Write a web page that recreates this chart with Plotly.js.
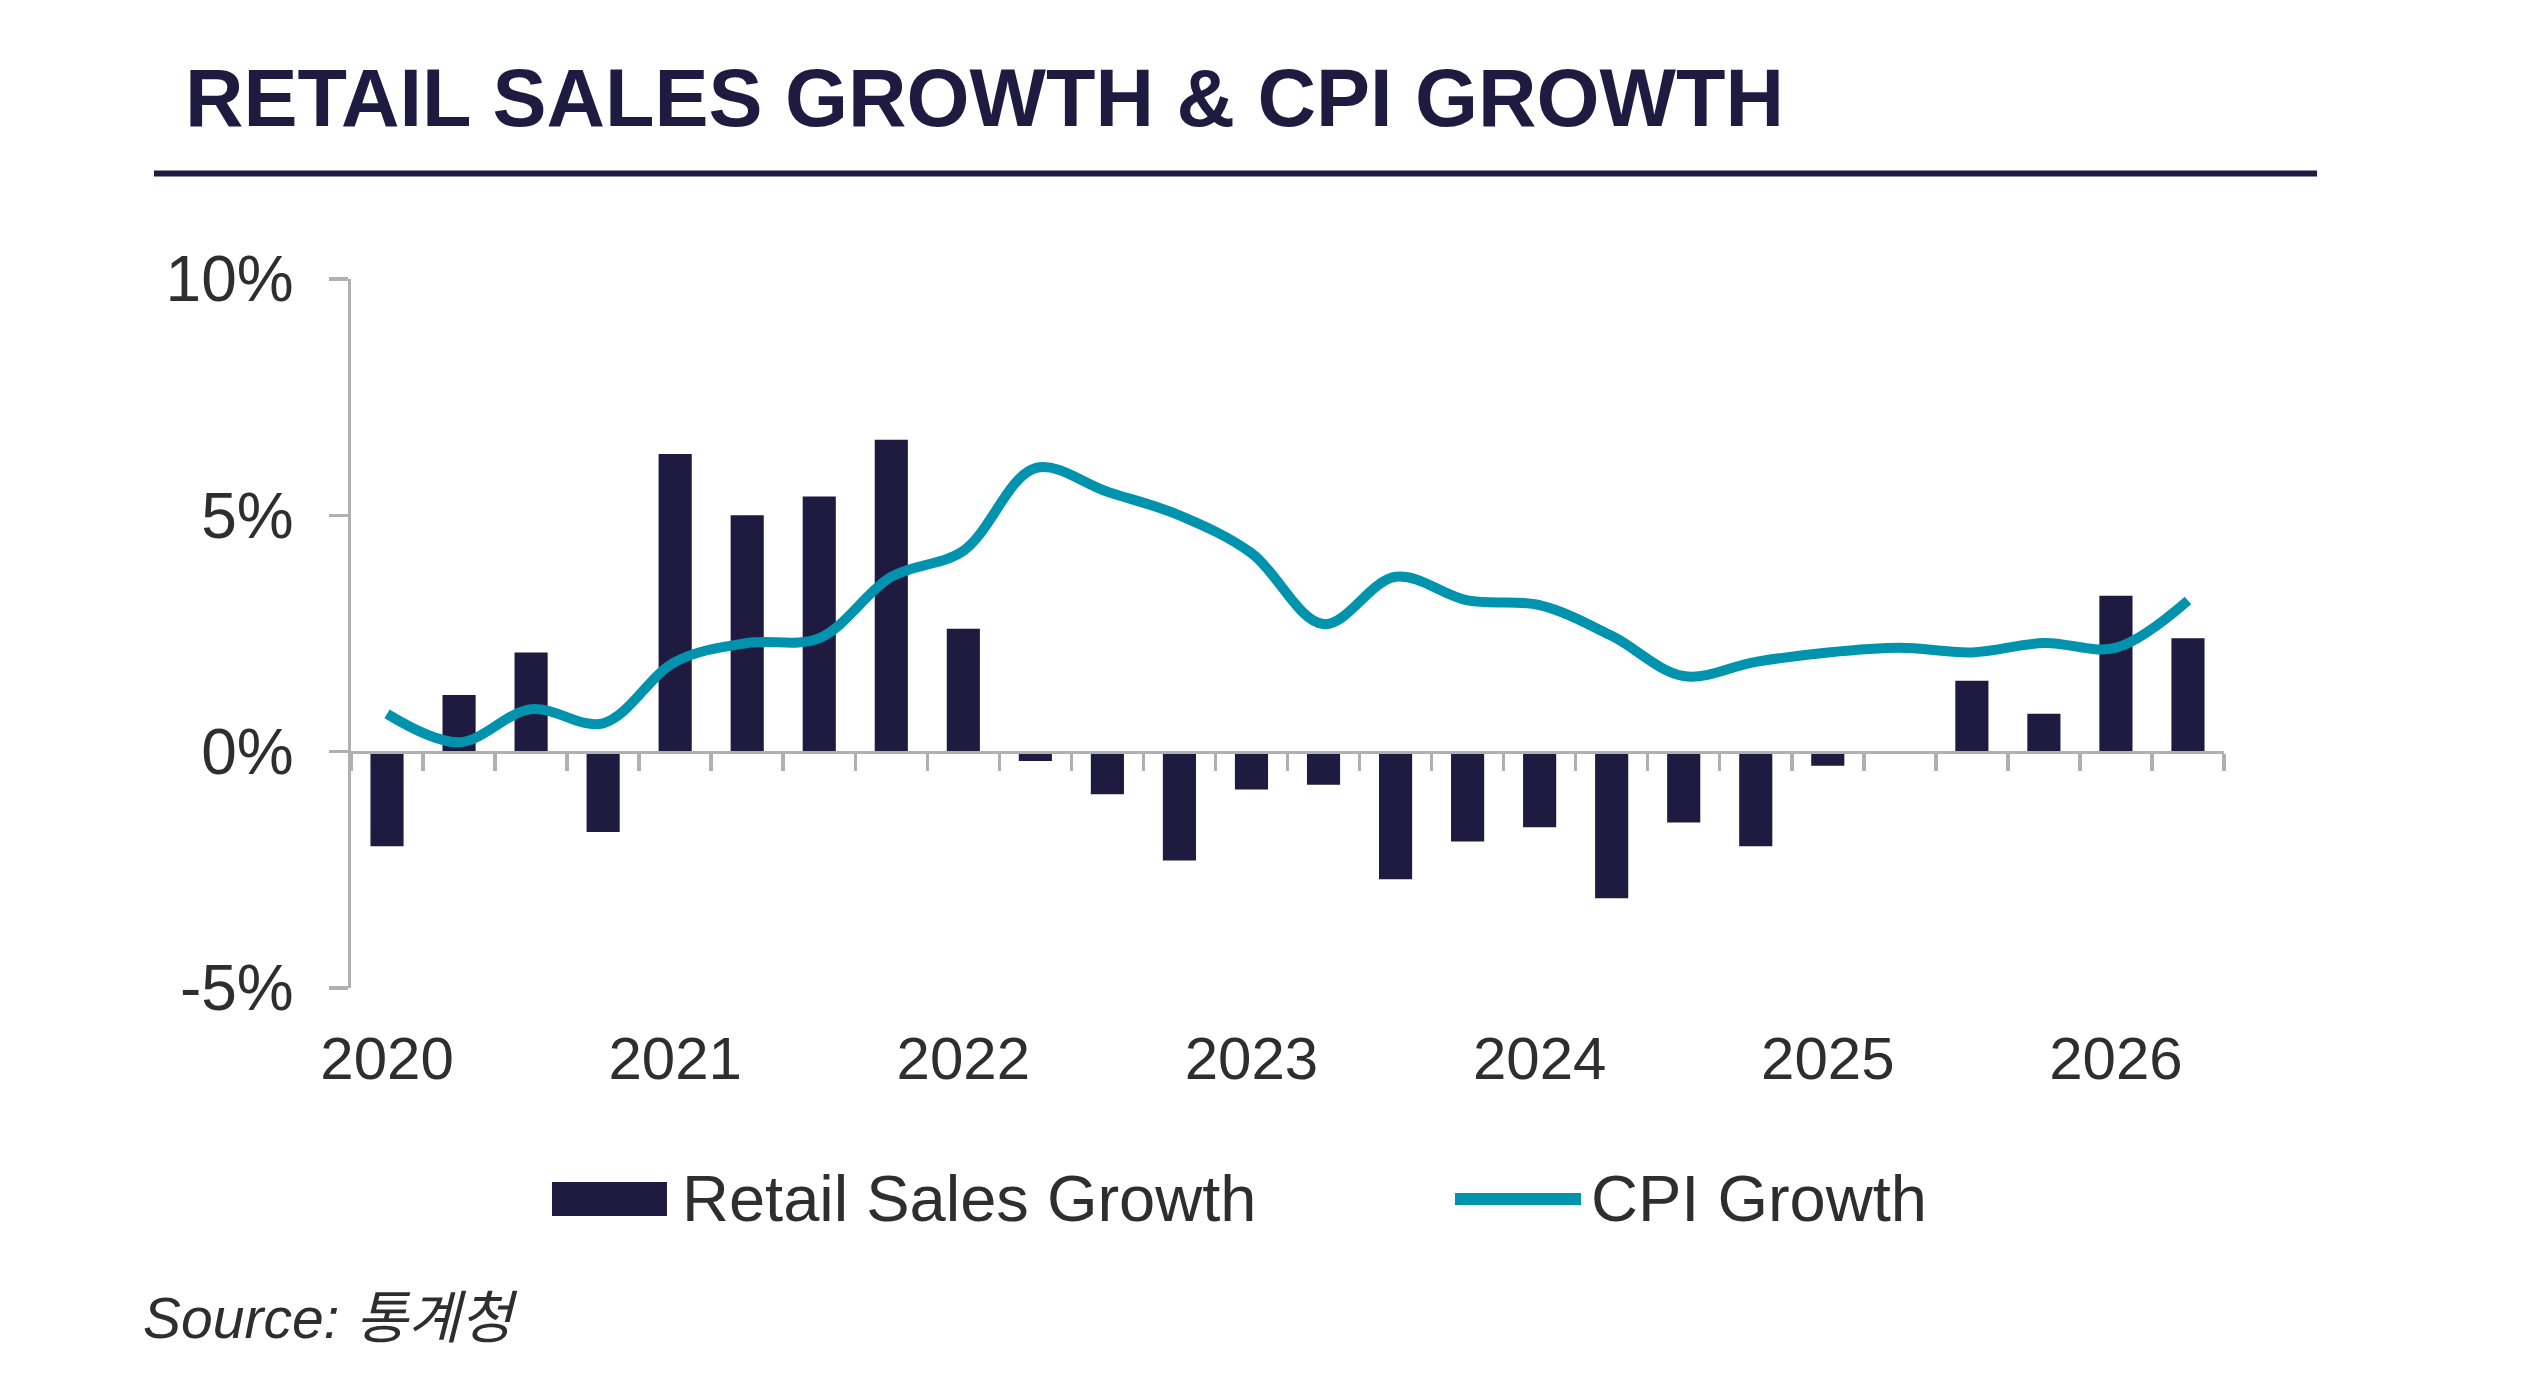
<!DOCTYPE html>
<html>
<head>
<meta charset="utf-8">
<script src="https://cdn.plot.ly/plotly-3.0.1.min.js"></script>
<style>
  html, body { margin: 0; padding: 0; background: #ffffff; }
  #chart { width: 2544px; height: 1400px; }
</style>
</head>
<body>
<div id="chart"></div>
<script>
// ---- data ----
const quarters = [
  '2020Q1','2020Q2','2020Q3','2020Q4',
  '2021Q1','2021Q2','2021Q3','2021Q4',
  '2022Q1','2022Q2','2022Q3','2022Q4',
  '2023Q1','2023Q2','2023Q3','2023Q4',
  '2024Q1','2024Q2','2024Q3','2024Q4',
  '2025Q1','2025Q2','2025Q3','2025Q4',
  '2026Q1','2026Q2'
];
const retailSalesGrowth = [
  -2.0, 1.2, 2.1, -1.7,
  6.3, 5.0, 5.4, 6.6,
  2.6, -0.2, -0.9, -2.3,
  -0.8, -0.7, -2.7, -1.9,
  -1.6, -3.1, -1.5, -2.0,
  -0.3, null, 1.5, 0.8,
  3.3, 2.4
];
const cpiGrowth = [
  0.8, 0.2, 0.9, 0.6,
  1.9, 2.3, 2.4, 3.7,
  4.25, 6.0, 5.5, 5.0,
  4.2, 2.7, 3.7, 3.2,
  3.1, 2.45, 1.6, 1.9,
  2.1, 2.2, 2.1, 2.3,
  2.2, 3.2
];
const yearLabels = ['2020','2021','2022','2023','2024','2025','2026'];
const yTickVals = [-5, 0, 5, 10];
const yTickText = ['-5%', '0%', '5%', '10%'];
const seriesNames = ['Retail Sales Growth', 'CPI Growth'];
const titleText = 'RETAIL SALES GROWTH & CPI GROWTH';
const sourceText = 'Source: 통계청';

// ---- style ----
const BAR_COLOR = '#1f1a3f';
const LINE_COLOR = '#0093ae';
const AXIS_COLOR = '#b0b0b0';
const TEXT_COLOR = '#2d2e2d';
const FONT = '"Liberation Sans", Arial, "Noto Sans CJK KR", sans-serif';

const yMin = -5, yMax = 10;
const zeroPos = (0 - yMin) / (yMax - yMin);
const xRange = [-0.5, quarters.length - 0.5];

const traces = [
  {
    type: 'bar',
    name: seriesNames[0],
    x: quarters,
    y: retailSalesGrowth,
    xaxis: 'x',
    yaxis: 'y',
    width: 0.46,
    marker: { color: BAR_COLOR },
    showlegend: false,
    hoverinfo: 'skip'
  },
  {
    type: 'scatter',
    mode: 'lines',
    name: seriesNames[1],
    x: quarters,
    y: cpiGrowth,
    xaxis: 'x2',
    yaxis: 'y',
    line: { color: LINE_COLOR, width: 10, shape: 'spline', smoothing: 1.0 },
    showlegend: false,
    hoverinfo: 'skip'
  }
];

const layout = {
  width: 2544,
  height: 1400,
  paper_bgcolor: '#ffffff',
  plot_bgcolor: 'rgba(0,0,0,0)',
  margin: { l: 351, r: 320, t: 279, b: 412, pad: 0 },
  font: { family: FONT, color: TEXT_COLOR },
  showlegend: false,
  title: {
    text: titleText,
    xref: 'container', x: 185 / 2544, xanchor: 'left',
    yref: 'container', y: (1400 - 97.5) / 1400, yanchor: 'middle',
    font: { family: FONT, size: 81, color: BAR_COLOR, weight: 'bold' }
  },
  xaxis: {
    type: 'category',
    categoryorder: 'array',
    categoryarray: quarters,
    range: xRange,
    fixedrange: true,
    anchor: 'free',
    position: zeroPos,
    showline: true,
    linecolor: AXIS_COLOR,
    linewidth: 3.5,
    ticks: 'outside',
    tickson: 'boundaries',
    ticklen: 17,
    tickwidth: 3.5,
    tickcolor: AXIS_COLOR,
    showticklabels: false,
    showgrid: false,
    zeroline: false
  },
  xaxis2: {
    type: 'category',
    categoryorder: 'array',
    categoryarray: quarters,
    range: xRange,
    fixedrange: true,
    overlaying: 'x',
    anchor: 'y',
    side: 'bottom',
    showline: false,
    ticks: '',
    tickmode: 'array',
    tickvals: yearLabels.map(y => y + 'Q1'),
    ticktext: yearLabels,
    tickfont: { family: FONT, size: 60, color: TEXT_COLOR },
    ticklabelstandoff: 30,
    showgrid: false,
    zeroline: false
  },
  yaxis: {
    range: [yMin, yMax],
    fixedrange: true,
    tickmode: 'array',
    tickvals: yTickVals,
    ticktext: yTickText,
    tickfont: { family: FONT, size: 64, color: TEXT_COLOR },
    showline: true,
    linecolor: AXIS_COLOR,
    linewidth: 3.5,
    ticks: 'outside',
    ticklen: 19,
    tickwidth: 3.5,
    tickcolor: AXIS_COLOR,
    ticklabelstandoff: 22,
    showgrid: false,
    zeroline: false
  },
  shapes: [
    // rule under the title
    { type: 'line', xref: 'paper', yref: 'paper',
      x0: -0.1052, x1: 1.0497, y0: 1.1488, y1: 1.1488,
      line: { color: BAR_COLOR, width: 6 } },
    // legend key: bars
    { type: 'rect', xref: 'paper', yref: 'paper',
      x0: 0.1073, x1: 0.1687, y0: -0.3216, y1: -0.2736,
      fillcolor: BAR_COLOR, line: { width: 0 } },
    // legend key: line
    { type: 'line', xref: 'paper', yref: 'paper',
      x0: 0.5894, x1: 0.6567, y0: -0.2976, y1: -0.2976,
      line: { color: LINE_COLOR, width: 12 } }
  ],
  annotations: [
    { text: seriesNames[0], xref: 'paper', yref: 'paper',
      x: 0.1758, y: -0.2962, xanchor: 'left', yanchor: 'middle',
      showarrow: false, font: { family: FONT, size: 65, color: TEXT_COLOR } },
    { text: seriesNames[1], xref: 'paper', yref: 'paper',
      x: 0.6608, y: -0.2962, xanchor: 'left', yanchor: 'middle',
      showarrow: false, font: { family: FONT, size: 65, color: TEXT_COLOR } },
    { text: sourceText, xref: 'paper', yref: 'paper',
      x: -0.1121, y: -0.4654, xanchor: 'left', yanchor: 'middle',
      showarrow: false, font: { family: FONT, size: 57, color: TEXT_COLOR, style: 'italic' } }
  ]
};

Plotly.newPlot('chart', traces, layout, { staticPlot: true, displayModeBar: false });
</script>
</body>
</html>
